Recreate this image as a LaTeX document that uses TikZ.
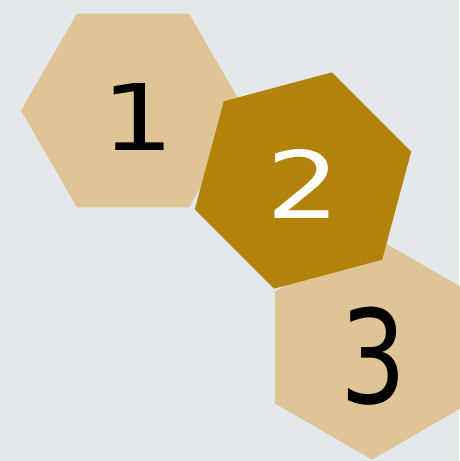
\documentclass[tikz,border=0pt]{standalone}
\usepackage{fontspec}
\setmainfont{DejaVu Sans}
\usetikzlibrary{shapes.geometric}
\definecolor{bg}{HTML}{E5E8EB}
\definecolor{tan}{HTML}{DFC495}
\definecolor{gold}{HTML}{B3820A}
\tikzset{
  hexa/.style={regular polygon, regular polygon sides=6, minimum size=224pt,
    inner sep=0pt, outer sep=0pt, draw=none},
  digit/.style={inner sep=0pt, outer sep=0pt}
}
\begin{document}
\begin{tikzpicture}[x=1pt,y=-1pt]
\fill[bg] (0,0) rectangle (459,461);
\useasboundingbox (0,0) rectangle (459,461);
\node[hexa, fill=tan] (h1) at (133,110.5) {};
\node[hexa, fill=tan, shape border rotate=30] (h3) at (372,347.5) {};
\node[hexa, fill=gold, shape border rotate=15] (h2) at (303,180.5) {};
\node[digit, text=black, xscale=1.25] (t1) at (138,117) {\fontsize{92}{92}\selectfont 1};
\node[digit, text=white, xscale=1.25] (t2) at (303,184) {\fontsize{93}{93}\selectfont 2};
\node[digit, text=black, xscale=0.8] (t3) at (374,356) {\fontsize{130}{130}\selectfont 3};
\end{tikzpicture}
\end{document}
